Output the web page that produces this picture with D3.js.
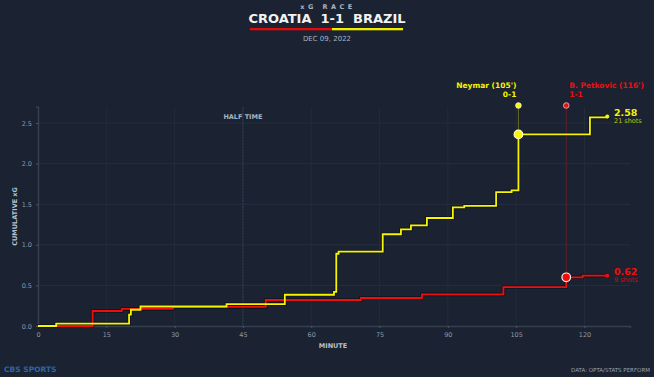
<!DOCTYPE html>
<html><head><meta charset="utf-8">
<script src="https://cdn.jsdelivr.net/npm/d3@7/dist/d3.min.js"></script>
<style>
html,body{margin:0;padding:0;background:#1b2231;}
svg{display:block;font-family:"DejaVu Sans",sans-serif;}
</style></head>
<body><svg id="c" width="654" height="377"></svg>
<script>
const brazilMinutes = [0, 4, 20, 20.4, 22.5, 41.4, 54.2, 65, 65.5, 66, 75.7, 79.7, 81.9, 85.4, 91.1, 93.6, 100.6, 104, 105.5, 121.2, 125];
const brazilXG      = [0, 0.03, 0.14, 0.2, 0.24, 0.27, 0.385, 0.42, 0.89, 0.915, 1.13, 1.19, 1.24, 1.33, 1.46, 1.48, 1.65, 1.67, 2.36, 2.57, 2.58];
const croatiaMinutes = [0, 12, 18.4, 29.6, 50, 70.9, 84.3, 102.2, 116, 119.6, 125];
const croatiaXG      = [0, 0.185, 0.21, 0.235, 0.32, 0.345, 0.39, 0.48, 0.6, 0.62, 0.62];
const xTicks = [0, 15, 30, 45, 60, 75, 90, 105, 120];
const yTicks = [0, 0.5, 1.0, 1.5, 2.0, 2.5];
const goals = [
  {team: "brazil", minute: 105.5, xg: 2.36, name: "Neymar (105')", score: "0-1"},
  {team: "croatia", minute: 116, xg: 0.6, name: "B. Petkovic (116')", score: "1-1"}
];
const totals = [
  {team: "brazil", xg: "2.58", shots: "21 shots"},
  {team: "croatia", xg: "0.62", shots: "9 shots"}
];
const colors = {brazil: "#f7f500", croatia: "#f20d0d"};

const svg = d3.select("#c");
const x = d3.scaleLinear().domain([0, 130]).range([38, 630]);
const y = d3.scaleLinear().domain([0, 2.7]).range([326, 106.8]);

// header
svg.append("text").attr("x", 328).attr("y", 8.8).attr("text-anchor", "middle")
  .attr("fill", "#aab4c2").attr("font-size", 6.5).attr("font-weight", "bold")
  .attr("letter-spacing", 3.5).text("xG RACE");
svg.append("text").attr("x", 327).attr("y", 22.8).attr("text-anchor", "middle")
  .attr("fill", "#f2f2f2").attr("font-size", 13).attr("font-weight", "bold")
  .attr("xml:space", "preserve").text("CROATIA  1-1  BRAZIL");
svg.append("rect").attr("x", 250).attr("y", 28).attr("width", 82).attr("height", 2.3).attr("fill", "#e00b0b");
svg.append("rect").attr("x", 332).attr("y", 28).attr("width", 71).attr("height", 2.3).attr("fill", "#f2ee00");
svg.append("text").attr("x", 327).attr("y", 40.5).attr("text-anchor", "middle")
  .attr("fill", "#aab4c2").attr("font-size", 7).text("DEC 09, 2022");

// grid
const g = svg.append("g");
g.selectAll(".hg").data(yTicks.filter(d => d > 0)).join("line")
  .attr("x1", x(0)).attr("x2", x(130)).attr("y1", d => y(d)).attr("y2", d => y(d))
  .attr("stroke", "#283243").attr("stroke-width", 0.8);
g.selectAll(".vg").data(xTicks.filter(d => d > 0)).join("line")
  .attr("x1", d => x(d)).attr("x2", d => x(d)).attr("y1", y(2.7)).attr("y2", y(0))
  .attr("stroke", "#242e3e").attr("stroke-width", 0.8);

// half time
g.append("line").attr("x1", x(45)).attr("x2", x(45)).attr("y1", y(2.7)).attr("y2", y(0))
  .attr("stroke", "#3a4658").attr("stroke-width", 0.8).attr("stroke-dasharray", "2,1");
g.append("text").attr("x", x(45)).attr("y", 119).attr("text-anchor", "middle")
  .attr("fill", "#a9b2bf").attr("font-size", 6.5).attr("font-weight", "bold").text("HALF TIME");

// axes
const xAxis = svg.append("g").attr("transform", `translate(0,${y(0)})`)
  .call(d3.axisBottom(x).tickValues(xTicks).tickSize(2).tickFormat(d3.format("d")));
const yAxis = svg.append("g").attr("transform", `translate(${x(0)},0)`)
  .call(d3.axisLeft(y).tickValues(yTicks).tickSize(2).tickFormat(d3.format(".1f")));
[xAxis, yAxis].forEach(a => {
  a.selectAll("text").attr("fill", "#8e99a8").attr("font-size", 6.5).attr("font-family", "DejaVu Sans");
  a.selectAll(".tick line").attr("stroke", "#4a5668");
  a.select(".domain").attr("stroke", "#36414f").attr("stroke-width", 1.5);
});
xAxis.selectAll("text").attr("dy", "0.9em");
yAxis.selectAll("text").attr("dx", "-1");

svg.append("text").attr("x", 333).attr("y", 348).attr("text-anchor", "middle")
  .attr("fill", "#b9c1cc").attr("font-size", 6.5).attr("font-weight", "bold").text("MINUTE");
svg.append("text").attr("transform", `translate(17,${(y(0) + y(2.7)) / 2}) rotate(-90)`)
  .attr("text-anchor", "middle").attr("fill", "#b9c1cc").attr("font-size", 6.5)
  .attr("font-weight", "bold").text("CUMULATIVE xG");

// goal marker lines
goals.forEach(gl => {
  svg.append("line").attr("x1", x(gl.minute)).attr("x2", x(gl.minute))
    .attr("y1", 105.5).attr("y2", y(gl.xg))
    .attr("stroke", gl.team === "brazil" ? "#6f6d22" : "#6a1e26").attr("stroke-width", 0.9);
});

// lines
const line = d3.line().x(d => x(d[0])).y(d => y(d[1])).curve(d3.curveStepAfter);
const series = [
  {team: "croatia", pts: croatiaMinutes.map((m, i) => [m, croatiaXG[i]])},
  {team: "brazil", pts: brazilMinutes.map((m, i) => [m, brazilXG[i]])}
];
series.forEach(s => {
  svg.append("path").attr("d", line(s.pts)).attr("fill", "none")
    .attr("stroke", "#0e131c").attr("stroke-width", 3.6).attr("stroke-opacity", 0.8);
});
series.forEach(s => {
  svg.append("path").attr("d", line(s.pts)).attr("fill", "none")
    .attr("stroke", colors[s.team]).attr("stroke-width", 1.8);
  const last = s.pts[s.pts.length - 1];
  svg.append("circle").attr("cx", x(last[0])).attr("cy", y(last[1])).attr("r", 2)
    .attr("fill", colors[s.team]);
});

// goal dots & labels
goals.forEach(gl => {
  const c = colors[gl.team];
  svg.append("circle").attr("cx", x(gl.minute)).attr("cy", 105.5).attr("r", 2.8)
    .attr("fill", c).attr("stroke", gl.team === "brazil" ? "#fffde0" : "#f4c0c0").attr("stroke-width", 0.8);
  svg.append("circle").attr("cx", x(gl.minute)).attr("cy", y(gl.xg)).attr("r", 4.3)
    .attr("fill", c).attr("stroke", gl.team === "brazil" ? "#fffbd0" : "#f2f2f2").attr("stroke-width", 1.2);
  const right = gl.team === "brazil";
  const tx = right ? x(gl.minute) - 2 : x(gl.minute) + 3;
  svg.append("text").attr("x", tx).attr("y", 88).attr("text-anchor", right ? "end" : "start")
    .attr("fill", c).attr("font-size", 7.5).attr("font-weight", "bold").text(gl.name);
  svg.append("text").attr("x", tx).attr("y", 97).attr("text-anchor", right ? "end" : "start")
    .attr("fill", c).attr("font-size", 7.5).attr("font-weight", "bold").text(gl.score);
});

// totals
totals.forEach(t => {
  const s = series.find(d => d.team === t.team);
  const last = s.pts[s.pts.length - 1];
  const ty = y(last[1]);
  svg.append("text").attr("x", 614).attr("y", ty - 0.5).attr("fill", colors[t.team])
    .attr("font-size", 9.5).attr("font-weight", "bold").text(t.xg);
  svg.append("text").attr("x", 614).attr("y", ty + 6.5).attr("fill", colors[t.team])
    .attr("fill-opacity", 0.75).attr("font-size", 6.5).text(t.shots);
});

// footer
svg.append("text").attr("x", 4).attr("y", 372).attr("fill", "#2f66a8")
  .attr("font-size", 7.5).attr("font-weight", "bold").text("CBS SPORTS");
svg.append("text").attr("x", 650).attr("y", 372).attr("text-anchor", "end")
  .attr("fill", "#9aa4b2").attr("font-size", 5.5).text("DATA: OPTA/STATS PERFORM");
</script></body></html>
